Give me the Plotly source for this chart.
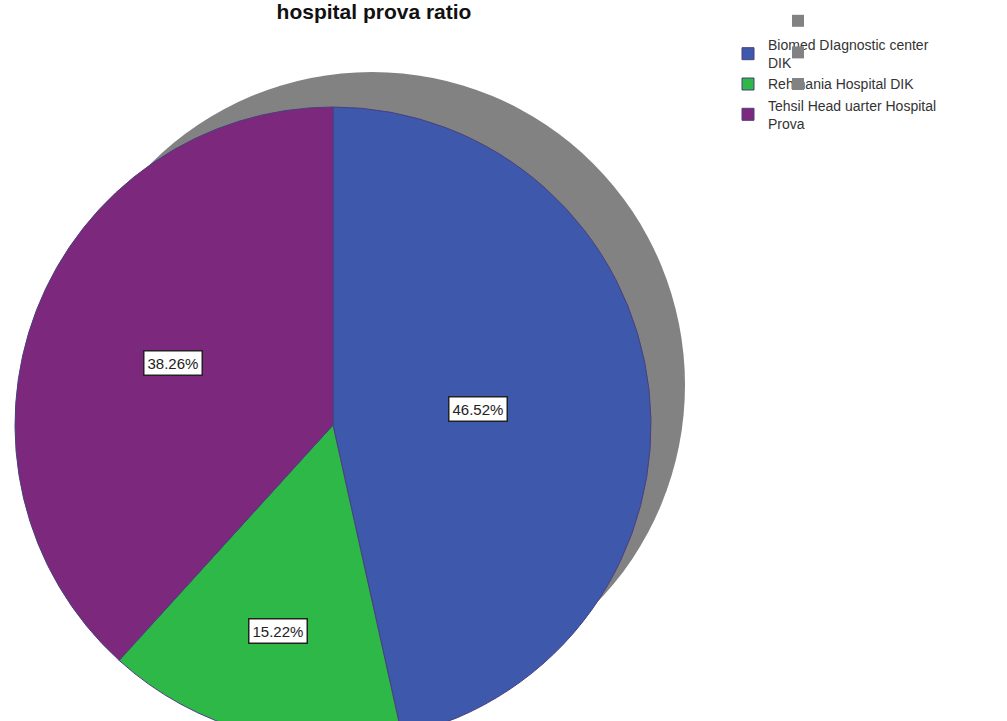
import math
import plotly.graph_objects as go

# ---- data ----
labels = ["Biomed DIagnostic center<br>DIK", "Rehmania Hospital DIK",
          "Tehsil Head uarter Hospital<br>Prova"]
counts = [107, 35, 88]
pct_text = ["46.52%", "15.22%", "38.26%"]
colors = ["#3E58AC", "#2EB848", "#7C287D"]

gray_labels = [" ", "  ", "   "]
gray_values = [1, 0, 0]

title_text = "hospital prova ratio"

# ---- layout geometry (pixels) ----
W, H = 1007, 760
FONT = "Liberation Sans, Arial, sans-serif"


def dom(cx, cy, r):
    return dict(x=[(cx - r) / W, (cx + r) / W], y=[(H - cy - r) / H, (H - cy + r) / H])


main_c = (333, 425, 318)
gray_c = (372, 385, 313)

fig = go.Figure()
fig.add_trace(go.Pie(
    labels=gray_labels, values=gray_values, sort=False, direction="clockwise",
    domain=dom(*gray_c), textinfo="none", hoverinfo="skip",
    marker=dict(colors=["#828282"] * 3, line=dict(width=0)),
    legend="legend2", showlegend=True,
))
fig.add_trace(go.Pie(
    labels=labels, values=counts, sort=False, direction="clockwise",
    domain=dom(*main_c), textinfo="none",
    marker=dict(colors=colors, line=dict(color="#4b3f7e", width=1)),
    legend="legend",
))

# percentage labels placed at each slice's mid-angle
radius_frac = [0.46, 0.67, 0.54]
total = sum(counts)
cum = 0
annotations = []
cx, cy, r = main_c
for v, t, f in zip(counts, pct_text, radius_frac):
    a = 2 * math.pi * (cum + v / 2) / total
    cum += v
    px = cx + f * r * math.sin(a)
    py = cy - f * r * math.cos(a)
    annotations.append(dict(
        x=px / W, y=(H - py) / H, xref="paper", yref="paper", text=t,
        xanchor="center", yanchor="middle",
        showarrow=False, bgcolor="white", bordercolor="#222222", borderwidth=1.5,
        borderpad=3, font=dict(family=FONT, size=15, color="#222222"),
    ))

fig.update_layout(
    width=W, height=H,
    margin=dict(l=0, r=0, t=0, b=0),
    paper_bgcolor="white", plot_bgcolor="white",
    title=dict(text="<b>" + title_text + "</b>", x=374 / W, xanchor="center",
               y=1 - 12 / H, yanchor="middle",
               font=dict(family=FONT, size=21, color="#111111")),
    legend=dict(x=728 / W, y=1 - 29 / H, xanchor="left", yanchor="top",
                font=dict(family=FONT, size=14, color="#333333"),
                bgcolor="rgba(0,0,0,0)", tracegroupgap=0),
    legend2=dict(x=778 / W, y=1.0, xanchor="left", yanchor="top",
                 font=dict(family=FONT, size=22, color="#333333"),
                 bgcolor="rgba(0,0,0,0)"),
    annotations=annotations,
)

fig.write_html("out.html")
